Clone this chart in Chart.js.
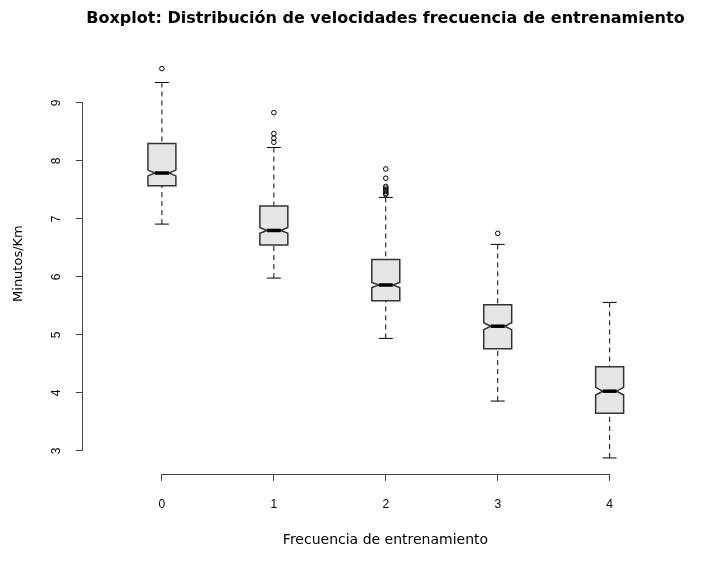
<!DOCTYPE html>
<html>
<head>
<meta charset="utf-8">
<script src="https://cdn.jsdelivr.net/npm/chart.js@4.4.0/dist/chart.umd.min.js"></script>
<style>
  html, body { margin: 0; padding: 0; background: #fff; }
</style>
</head>
<body>
<canvas id="boxChart" width="720" height="564"></canvas>
<script>
// frecuencia de entrenamiento (categorias) y estadisticos de cada caja
const categories  = ["0", "1", "2", "3", "4"];
const whiskerLow  = [6.91, 5.98, 4.94, 3.86, 2.88];
const q1          = [7.57, 6.55, 5.59, 4.76, 3.65];
const median      = [7.79, 6.80, 5.86, 5.15, 4.03];
const q3          = [8.30, 7.22, 6.30, 5.52, 4.45];
const whiskerHigh = [9.35, 8.23, 7.37, 6.56, 5.56];
const notchHalf   = [0.05, 0.05, 0.045, 0.06, 0.065];
const outliers = [
  [9.59],
  [8.83, 8.47, 8.39, 8.32],
  [7.86, 7.70, 7.56, 7.53, 7.50, 7.47, 7.44, 7.42],
  [6.75],
  []
];
const yTicks = [3, 4, 5, 6, 7, 8, 9];

const FONT = "'Liberation Sans', Arial, sans-serif";
const WIDE = "'DejaVu Sans', Verdana, sans-serif";
const boxWidth = 0.25;

var outlierPoints = [];
outliers.forEach(function(list, i) {
  list.forEach(function(v) { outlierPoints.push({x: i, y: v}); });
});

// cajas con muesca, bigotes punteados y mediana gruesa
const notchedBoxes = {
  id: "notchedBoxes",
  beforeDatasetsDraw: function(chart) {
    var ctx = chart.ctx;
    var xs = chart.scales.x, ys = chart.scales.y;
    ctx.save();
    for (let i = 0; i < categories.length; i++) {
      var cx = xs.getPixelForValue(i);
      var left = xs.getPixelForValue(i - boxWidth / 2);
      var right = xs.getPixelForValue(i + boxWidth / 2);
      var quarter = (right - left) / 4;
      var yLo = ys.getPixelForValue(whiskerLow[i]);
      var yQ1 = ys.getPixelForValue(q1[i]);
      var yMed = ys.getPixelForValue(median[i]);
      var yQ3 = ys.getPixelForValue(q3[i]);
      var yHi = ys.getPixelForValue(whiskerHigh[i]);
      var yNu = ys.getPixelForValue(median[i] + notchHalf[i]);
      var yNd = ys.getPixelForValue(median[i] - notchHalf[i]);

      ctx.strokeStyle = "#000";
      ctx.lineWidth = 1;
      ctx.setLineDash([5, 4]);
      ctx.beginPath();
      ctx.moveTo(cx, yHi); ctx.lineTo(cx, yQ3);
      ctx.moveTo(cx, yLo); ctx.lineTo(cx, yQ1);
      ctx.stroke();
      ctx.setLineDash([]);

      ctx.beginPath();
      ctx.moveTo(cx - quarter, yHi); ctx.lineTo(cx + quarter, yHi);
      ctx.moveTo(cx - quarter, yLo); ctx.lineTo(cx + quarter, yLo);
      ctx.stroke();

      ctx.beginPath();
      ctx.moveTo(left, yQ1);
      ctx.lineTo(left, yNd);
      ctx.lineTo(left + quarter, yMed);
      ctx.lineTo(left, yNu);
      ctx.lineTo(left, yQ3);
      ctx.lineTo(right, yQ3);
      ctx.lineTo(right, yNu);
      ctx.lineTo(right - quarter, yMed);
      ctx.lineTo(right, yNd);
      ctx.lineTo(right, yQ1);
      ctx.closePath();
      ctx.fillStyle = "#e5e5e5";
      ctx.fill();
      ctx.strokeStyle = "#333";
      ctx.lineWidth = 1.5;
      ctx.stroke();

      ctx.strokeStyle = "#000";
      ctx.lineWidth = 3.5;
      ctx.beginPath();
      ctx.moveTo(left + quarter, yMed);
      ctx.lineTo(right - quarter, yMed);
      ctx.stroke();
    }
    ctx.restore();
  }
};

// lineas de ejes solo entre el primer y el ultimo tick, como en R
const shortAxes = {
  id: "shortAxes",
  afterDraw: function(chart) {
    var ctx = chart.ctx;
    var xs = chart.scales.x, ys = chart.scales.y;
    var area = chart.chartArea;
    ctx.save();
    ctx.strokeStyle = "#444";
    ctx.lineWidth = 1;
    ctx.beginPath();
    ctx.moveTo(xs.getPixelForValue(0), area.bottom + 0.5);
    ctx.lineTo(xs.getPixelForValue(categories.length - 1), area.bottom + 0.5);
    ctx.moveTo(area.left - 0.5, ys.getPixelForValue(yTicks[0]));
    ctx.lineTo(area.left - 0.5, ys.getPixelForValue(yTicks[yTicks.length - 1]));
    ctx.stroke();
    ctx.restore();
  }
};

var chart = new Chart(document.getElementById("boxChart").getContext("2d"), {
  type: "scatter",
  data: {
    datasets: [{
      data: outlierPoints,
      pointStyle: "circle",
      pointRadius: 2.3,
      borderColor: "#000",
      borderWidth: 1,
      backgroundColor: "rgba(0,0,0,0)"
    }]
  },
  options: {
    responsive: false,
    animation: false,
    layout: { padding: { left: 0, right: 32, top: 0, bottom: 0 } },
    plugins: {
      legend: { display: false },
      tooltip: { enabled: false },
      title: {
        display: true,
        fullSize: false,
        text: "Boxplot: Distribución de velocidades frecuencia de entrenamiento",
        color: "#000",
        font: { family: WIDE, size: 16, weight: "bold" },
        padding: { top: 9, bottom: 25 }
      }
    },
    scales: {
      x: {
        type: "linear",
        min: -0.705,
        max: 4.7,
        afterBuildTicks: function(scale) {
          scale.ticks = categories.map(function(c, i) { return {value: i}; });
        },
        afterFit: function(scale) { scale.height = 90; },
        ticks: {
          color: "#000",
          font: { family: FONT, size: 12 },
          padding: 16,
          callback: function(value) { return categories[value]; }
        },
        grid: { drawOnChartArea: false, drawTicks: true, tickLength: 7, color: "#444" },
        border: { display: false },
        title: {
          display: true,
          text: "Frecuencia de entrenamiento",
          color: "#000",
          font: { family: WIDE, size: 14 },
          padding: { top: 0, bottom: 15 }
        }
      },
      y: {
        type: "linear",
        min: 2.603,
        max: 9.855,
        afterBuildTicks: function(scale) {
          scale.ticks = yTicks.map(function(v) { return {value: v}; });
        },
        afterFit: function(scale) { scale.width = 83; },
        ticks: {
          color: "#000",
          font: { family: FONT, size: 12 },
          minRotation: 90,
          maxRotation: 90,
          crossAlign: "center",
          padding: 16
        },
        grid: { drawOnChartArea: false, drawTicks: true, tickLength: 7, color: "#444" },
        border: { display: false },
        title: {
          display: true,
          text: "Minutos/Km",
          color: "#000",
          font: { family: WIDE, size: 13 },
          padding: { top: 11, bottom: 0 }
        }
      }
    }
  },
  plugins: [notchedBoxes, shortAxes]
});
</script>
</body>
</html>
